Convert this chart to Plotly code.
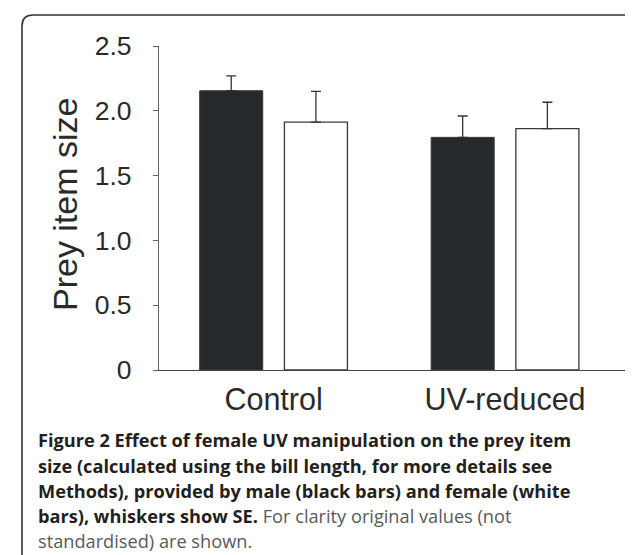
import plotly.graph_objects as go

categories = ["Control", "UV-reduced"]
male_values = [2.155, 1.795]
male_se = [0.115, 0.165]
female_values = [1.912, 1.862]
female_se = [0.238, 0.204]
y_ticks = [0, 0.5, 1.0, 1.5, 2.0, 2.5]
y_tick_labels = ["0", "0.5", "1.0", "1.5", "2.0", "2.5"]

W, H = 633, 555
L, R, T, B = 151, 14, 38, 193
PW, PH = W - L - R, H - T - B

def px(x):
    return (x - L) / PW

def py(y):
    return (H - B - y) / PH

fig = go.Figure()
fig.add_trace(go.Bar(
    x=categories, y=male_values, name="male",
    marker=dict(color="#25292c", line=dict(color="#3a3a3a", width=1)),
    error_y=dict(type="data", symmetric=False, array=male_se,
                 arrayminus=[0] * len(male_se), color="#333333",
                 thickness=1.3, width=5),
))
fig.add_trace(go.Bar(
    x=categories, y=female_values, name="female",
    marker=dict(color="#ffffff", line=dict(color="#3a3a3a", width=1.3)),
    error_y=dict(type="data", symmetric=False, array=female_se,
                 arrayminus=[0] * len(female_se), color="#333333",
                 thickness=1.3, width=5),
))

axis_font = dict(family="Liberation Sans, Arial, sans-serif", color="#2a2a2a")

fig.update_layout(
    width=W, height=H,
    margin=dict(l=L, r=R, t=T, b=B, pad=0),
    paper_bgcolor="white", plot_bgcolor="white",
    barmode="group", bargap=0.268, bargroupgap=0.256,
    showlegend=False,
    xaxis=dict(
        type="category", range=[-0.495, 1.527],
        showline=True, linecolor="#444444", linewidth=1.3,
        ticks="", showgrid=False, zeroline=False,
        tickfont=dict(size=30.5, **axis_font), ticklabelstandoff=2,
    ),
    yaxis=dict(
        range=[0, 2.5], tickvals=y_ticks, ticktext=y_tick_labels,
        showline=True, linecolor="#666666", linewidth=1.2,
        ticks="outside", ticklen=5, tickcolor="#666666", tickwidth=1.2,
        showgrid=False, zeroline=False,
        tickfont=dict(size=26.5, **axis_font), ticklabelstandoff=16,
    ),
)

fig.add_annotation(
    text="Prey item size", textangle=-90, showarrow=False,
    xref="paper", yref="paper", x=px(57), y=py(196),
    xanchor="center", yanchor="middle",
    font=dict(size=34, **axis_font),
)

cap_size = 18.2
cap_font = dict(family="Open Sans, sans-serif", size=cap_size, color="#231f20")
gray = "#58595b"
caption_lines = [
    "<b>Figure 2 Effect of female UV manipulation on the prey item</b>",
    "<b>size (calculated using the bill length, for more details see</b>",
    "<b>Methods), provided by male (black bars) and female (white</b>",
    "<b>bars), whiskers show SE.</b> <span style='color:%s'>For clarity original values (not</span>" % gray,
    "<span style='color:%s'>standardised) are shown.</span>" % gray,
]
baselines = [439, 465, 490, 515, 540]
for line, base in zip(caption_lines, baselines):
    fig.add_annotation(
        text=line, showarrow=False, xref="paper", yref="paper",
        x=px(28), y=py(base - 0.388 * cap_size), xanchor="left", yanchor="middle",
        font=cap_font, align="left",
    )

# rounded border box (open at bottom / right edge cropped)
x0, y0, x1 = px(14), py(7), px(631)
rx, ry = 11 / PW, 11 / PH
ybot = py(552)
path = (f"M {x0},{ybot} L {x0},{y0 - ry} Q {x0},{y0} {x0 + rx},{y0} "
        f"L {x1 - rx},{y0} Q {x1},{y0} {x1},{y0 - ry} L {x1},{py(600)}")
fig.add_shape(type="path", path=path, xref="paper", yref="paper",
              line=dict(color="#333333", width=1.6), layer="above")

fig.write_html("out.html")
